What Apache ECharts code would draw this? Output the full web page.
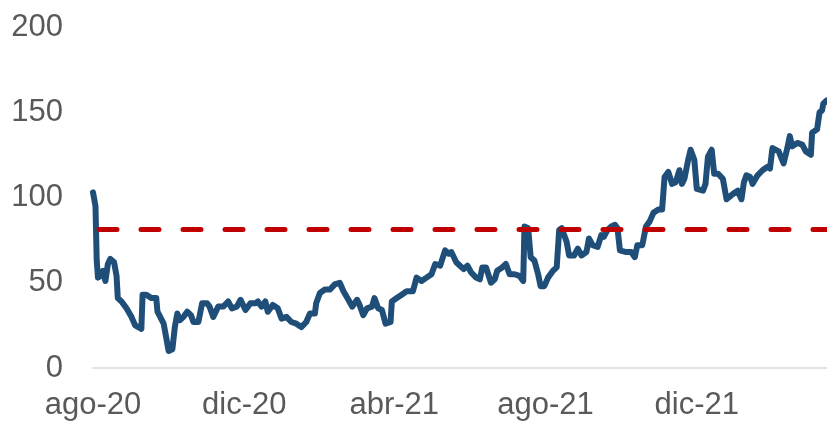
<!DOCTYPE html>
<html>
<head>
<meta charset="utf-8">
<script src="https://cdn.jsdelivr.net/npm/echarts@6/dist/echarts.min.js"></script>
<style>
  html, body { margin: 0; padding: 0; background: #fff; }
  #chart { width: 827px; height: 422px; }
</style>
</head>
<body>
<div id="chart"></div>
<script>
// series
const dates = [
  '2020-08-01','2020-08-03','2020-08-04','2020-08-05','2020-08-07','2020-08-09','2020-08-11','2020-08-13','2020-08-15','2020-08-18',
  '2020-08-20','2020-08-21','2020-08-24','2020-08-28','2020-09-01','2020-09-04','2020-09-09','2020-09-10','2020-09-13','2020-09-17',
  '2020-09-21','2020-09-22','2020-09-27','2020-09-29','2020-10-01','2020-10-04','2020-10-06','2020-10-08','2020-10-10','2020-10-13',
  '2020-10-16','2020-10-19','2020-10-21','2020-10-25','2020-10-28','2020-11-01','2020-11-03','2020-11-06','2020-11-10','2020-11-14',
  '2020-11-18','2020-11-21','2020-11-25','2020-11-28','2020-12-02','2020-12-06','2020-12-10','2020-12-12','2020-12-15','2020-12-18',
  '2020-12-20','2020-12-24','2020-12-28','2020-12-31','2021-01-04','2021-01-08','2021-01-12','2021-01-16','2021-01-20','2021-01-23',
  '2021-01-27','2021-01-28','2021-01-31','2021-02-04','2021-02-08','2021-02-12','2021-02-16','2021-02-19','2021-02-23','2021-02-26',
  '2021-03-02','2021-03-04','2021-03-07','2021-03-10','2021-03-14','2021-03-16','2021-03-19','2021-03-22','2021-03-25','2021-03-29',
  '2021-03-30','2021-04-03','2021-04-07','2021-04-11','2021-04-16','2021-04-19','2021-04-23','2021-04-27','2021-05-01','2021-05-04',
  '2021-05-08','2021-05-12','2021-05-15','2021-05-17','2021-05-21','2021-05-24','2021-05-27','2021-05-30','2021-06-02','2021-06-06',
  '2021-06-09','2021-06-11','2021-06-14','2021-06-18','2021-06-21','2021-06-23','2021-06-27','2021-06-30','2021-07-03','2021-07-07',
  '2021-07-11','2021-07-14','2021-07-15','2021-07-18','2021-07-20','2021-07-23','2021-07-26','2021-07-28','2021-07-31','2021-08-03',
  '2021-08-07','2021-08-10','2021-08-12','2021-08-14','2021-08-18','2021-08-20','2021-08-24','2021-08-27','2021-08-30','2021-09-03',
  '2021-09-05','2021-09-08','2021-09-12','2021-09-15','2021-09-17','2021-09-20','2021-09-23','2021-09-26','2021-09-28','2021-09-30',
  '2021-10-05','2021-10-09','2021-10-12','2021-10-14','2021-10-18','2021-10-21','2021-10-24','2021-10-27','2021-10-31','2021-11-03',
  '2021-11-05','2021-11-08','2021-11-11','2021-11-14','2021-11-17','2021-11-19','2021-11-21','2021-11-24','2021-11-26','2021-11-29',
  '2021-12-01','2021-12-06','2021-12-08','2021-12-10','2021-12-13','2021-12-15','2021-12-18','2021-12-22','2021-12-25','2021-12-30',
  '2022-01-03','2022-01-06','2022-01-08','2022-01-10','2022-01-13','2022-01-15','2022-01-19','2022-01-23','2022-01-27','2022-01-29',
  '2022-01-31','2022-02-05','2022-02-09','2022-02-12','2022-02-14','2022-02-16','2022-02-20','2022-02-24','2022-02-27','2022-03-03',
  '2022-03-04','2022-03-08','2022-03-10','2022-03-12','2022-03-13','2022-03-16'
];
const values = [
  103, 95, 63, 53, 54, 57, 51, 61, 64, 62,
  54, 41, 39, 35, 30, 25, 23, 43, 43, 41,
  41, 33, 26, 18, 10, 11, 24, 32, 28, 30,
  33, 31, 27, 27, 38, 38, 36, 30, 36, 36,
  39, 35, 36, 40, 34, 38, 38, 39, 36, 39,
  33, 37, 35, 29, 30, 27, 26, 24, 27, 32,
  32, 38, 44, 46, 46, 49, 50, 45, 40, 36,
  40, 37, 31, 35, 36, 41, 35, 34, 26, 27,
  39, 41, 43, 45, 45, 53, 51, 53, 55, 61,
  60, 69, 67, 68, 62, 60, 58, 60, 56, 53,
  52, 59, 59, 50, 52, 57, 59, 61, 55, 55,
  54, 51, 83, 82, 65, 63, 55, 48, 48, 53,
  57, 59, 81, 82, 74, 66, 66, 70, 66, 68,
  76, 72, 71, 78, 77, 81, 83, 84, 82, 69,
  68, 68, 65, 72, 72, 83, 86, 91, 93, 93,
  112, 115, 108, 109, 116, 108, 111, 122, 128, 122,
  105, 104, 108, 124, 128, 114, 114, 111, 99, 102,
  104, 99, 109, 113, 112, 108, 113, 116, 118, 117,
  129, 127, 120, 129, 136, 130, 132, 131, 127, 125,
  138, 140, 150, 151, 155, 157
];
const threshold = 81.5;

const xTickDates = ['2020-08-01', '2020-12-01', '2021-04-01', '2021-08-01', '2021-12-01'];
const xTickLabels = ['ago-20', 'dic-20', 'abr-21', 'ago-21', 'dic-21'];

const toTime = s => echarts.number.parseDate(s).getTime();
const tickTimes = xTickDates.map(toTime);

const chart = echarts.init(document.getElementById('chart'));

chart.setOption({
  animation: false,
  grid: { left: 93, right: 0, top: 27, bottom: 54 },
  xAxis: {
    // dates as timestamps on a value axis so the labels can sit on the 1st of each month
    type: 'value',
    min: toTime('2020-08-01'),
    max: toTime('2022-03-16'),
    axisLine: { show: true, lineStyle: { color: '#d9d9d9', width: 1.5 } },
    axisTick: { show: false },
    splitLine: { show: false },
    axisLabel: {
      customValues: tickTimes,
      formatter: v => {
        const i = tickTimes.indexOf(v);
        return i >= 0 ? xTickLabels[i] : '';
      },
      color: '#595959',
      fontFamily: 'Liberation Sans, Arial, sans-serif',
      fontSize: 31,
      margin: 22
    }
  },
  yAxis: {
    type: 'value',
    min: 0,
    max: 200,
    interval: 50,
    axisLine: { show: false },
    axisTick: { show: false },
    splitLine: { show: false },
    axisLabel: {
      color: '#595959',
      fontFamily: 'Liberation Sans, Arial, sans-serif',
      fontSize: 31,
      margin: 30
    }
  },
  series: [{
    type: 'line',
    data: dates.map((d, i) => [toTime(d), values[i]]),
    showSymbol: false,
    lineStyle: { color: '#1f4e79', width: 6, join: 'round', cap: 'round' },
    markLine: {
      silent: true,
      symbol: 'none',
      label: { show: false },
      lineStyle: {
        color: '#c00000',
        width: 5,
        type: [18, 24],
        dashOffset: 36,
        cap: 'round'
      },
      data: [{ yAxis: threshold }]
    }
  }]
});
</script>
</body>
</html>
